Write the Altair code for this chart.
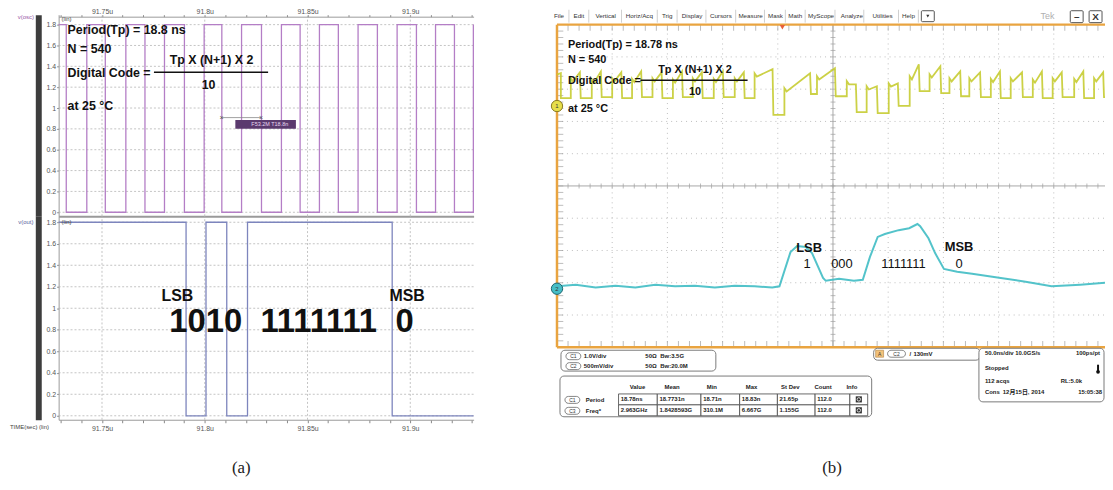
import altair as alt
import pandas as pd

# ============================ DATA ============================
# Panel (a): simulated waveforms (time in us, level in V).
# Each level is the value the trace switches to at the matching time.
OSC_T = [91.7289, 91.7326, 91.7426, 91.7516, 91.7616, 91.7709, 91.7804, 91.7901,
         91.7997, 91.8083, 91.8179, 91.8276, 91.8373, 91.8464, 91.8558, 91.8650,
         91.8746, 91.8840, 91.8936, 91.9030, 91.9123, 91.9215, 91.9307]
OSC_V = [1.8, 0, 1.8, 0, 1.8, 0, 1.8, 0, 1.8, 0, 1.8, 0,
         1.8, 0, 1.8, 0, 1.8, 0, 1.8, 0, 1.8, 0, 1.8]
OUT_T = [91.7289, 91.7909, 91.8006, 91.8107, 91.8208, 91.8912, 91.9308]
OUT_V = [1.8, 0, 1.8, 0, 1.8, 0, 0]
A_VTICKS = [0, 0.2, 0.4, 0.6, 0.8, 1, 1.2, 1.4, 1.6, 1.8]
A_TMAJOR = [91.75, 91.8, 91.85, 91.9]
A_TTICKS = [91.73, 91.74, 91.75, 91.76, 91.77, 91.78, 91.79, 91.8, 91.81, 91.82,
            91.83, 91.84, 91.85, 91.86, 91.87, 91.88, 91.89, 91.9, 91.91, 91.92, 91.93]
A_NOTES = ["Period(Tp) = 18.8 ns", "N = 540", "Digital Code =", "at 25 °C"]
FRACTION = ["Tp X (N+1) X 2", "10"]
A_BITS = ["1010", "1111111", "0"]
ENDS = ["LSB", "MSB"]
A_CURSOR = "F53.2M T18.8n"
A_CHANNELS = ["v(osc)", "v(out)"]

# Panel (b): oscilloscope capture, x and y in screen divisions.
Y_RISE = [0.25, 0.63, 1.00, 1.36, 1.73, 2.10, 2.46, 2.84, 3.22, 3.58, 4.12, 4.71, 5.25,
          5.61, 6.01, 6.39, 6.75, 7.11, 7.47, 7.86, 8.22, 8.62, 8.98, 9.37, 9.73]
Y_FALL = [0.43, 0.81, 1.18, 1.54, 1.91, 2.28, 2.64, 3.02, 3.40, 3.92, 4.60, 5.05, 5.43,
          5.81, 6.19, 6.57, 6.96, 7.32, 7.68, 8.04, 8.44, 8.80, 9.16, 9.55, 9.91]
Y_HIGH = [3.34, 3.30, 3.34, 3.32, 3.34, 3.30, 3.34, 3.32, 3.34, 3.49, 3.03, 3.40, 3.25,
          3.09, 3.18, 3.40, 3.46, 3.34, 3.34, 3.32, 3.34, 3.30, 3.34, 3.32, 3.34]
Y_PEAK = [3.52, 3.55, 3.52, 3.55, 3.52, 3.55, 3.52, 3.55, 3.52, 3.62, 3.49, 3.65, 3.15,
          3.09, 3.18, 3.77, 3.71, 3.55, 3.52, 3.55, 3.52, 3.55, 3.52, 3.55, 3.52]
Y_LOW = [2.72, 2.75, 2.72, 2.75, 2.72, 2.75, 2.72, 2.75, 2.72, 2.20, 2.85, 2.78, 2.29,
         2.26, 2.48, 2.94, 2.88, 2.78, 2.75, 2.72, 2.75, 2.72, 2.75, 2.72, 2.75]
Y_START = [3.45, 3.50, 2.72]
C2_X = [0, 0.34, 0.70, 1.06, 1.42, 1.78, 2.14, 2.50, 2.86, 3.22, 3.58, 3.90, 4.03,
        4.23, 4.35, 4.51, 4.62, 4.82, 4.87, 5.11, 5.38, 5.54, 5.67, 5.81, 5.94, 6.19,
        6.38, 6.53, 6.58, 6.73, 6.85, 7.01, 7.25, 7.52, 8.04, 8.49, 8.96, 9.48, 9.93]
C2_Y = [-3.11, -3.06, -3.15, -3.09, -3.15, -3.06, -3.11, -3.09, -3.15, -3.09, -3.11,
        -3.15, -3.11, -2.05, -1.86, -1.89, -2.08, -2.85, -2.94, -2.88, -2.94, -2.91,
        -2.20, -1.58, -1.49, -1.37, -1.31, -1.18, -1.25, -1.62, -2.08, -2.57, -2.66,
        -2.72, -2.85, -2.97, -3.11, -3.06, -3.00]
B_NOTES = ["Period(Tp) = 18.78 ns", "N = 540", "Digital Code =", "at 25 °C"]
B_BITS = ["1", "000", "1111111", "0"]
MENU = ["File", "Edit", "Vertical", "Horiz/Acq", "Trig", "Display", "Cursors", "Measure",
        "Mask", "Math", "MyScope", "Analyze", "Utilities", "Help"]
CH_NAMES = ["C1", "C2"]
CH_SCALE = ["1.0V/div", "500mV/div"]
CH_TERM = ["50Ω", "50Ω"]
CH_BW = ["Bw:3.5G", "Bw:20.0M"]
MEAS_HEAD = ["Value", "Mean", "Min", "Max", "St Dev", "Count", "Info"]
MEAS_SRC = ["C1", "C3"]
MEAS_NAME = ["Period", "Freq*"]
MEAS_ROWS = [["18.78ns", "18.7731n", "18.71n", "18.83n", "21.65p", "112.0"],
             ["2.963GHz", "1.8428593G", "310.1M", "6.667G", "1.155G", "112.0"]]
TRIG = ["A", "C2", "/", "130mV"]
HORIZ_L = ["50.0ns/div  10.0GS/s", "Stopped", "112 acqs", "Cons"]
HORIZ_DATE = "12月15日, 2014"
HORIZ_R = ["100ps/pt", "RL:5.0k", "15:05:38"]
CAPTIONS = ["(a)", "(b)"]

# ============================ LAYOUT ============================
W, H = 1105, 472
PX0, PY0 = 8, 16


def rx(px):
    return px - PX0


def ry(py):
    return py - PY0


def sc(domain, rng):
    return alt.Scale(domain=domain, range=rng, nice=False, zero=False)


TA_DOM = [91.72889, 91.93082]
VT_DOM = [-0.0381, 1.8952]
VB_DOM = [-0.0369, 1.8560]
S_TA = sc(TA_DOM, [rx(59), rx(477)])
S_VT = sc(VT_DOM, [ry(216), ry(13)])
S_VB = sc(VB_DOM, [ry(421), ry(216)])
S_DX = sc([0, 10], [rx(561), rx(1117)])
S_DY = sc([-5, 5], [ry(348), ry(23)])

SANS = "Liberation Sans, Arial, Noto Sans CJK SC"
SERIF = "Liberation Serif, Times New Roman"


def enc(xs, ys, xaxis=None, yaxis=None, two=False, **kw):
    e = dict(x=alt.X("x", type="quantitative", scale=xs, axis=xaxis),
             y=alt.Y("y", type="quantitative", scale=ys, axis=yaxis))
    if two:
        e["x2"] = alt.X2("x2")
        e["y2"] = alt.Y2("y2")
    e.update(kw)
    return e


def line_layer(df, xs, ys, xaxis=None, yaxis=None, **mk):
    return alt.Chart(df).mark_line(**mk).encode(
        **enc(xs, ys, xaxis, yaxis, order=alt.Order("o:Q")))


def text_layer(df, xs, ys, **mk):
    mk.setdefault("font", SANS)
    mk.setdefault("baseline", "middle")
    return alt.Chart(df).mark_text(**mk).encode(**enc(xs, ys, text=alt.Text("s:N")))


def rule_layer(df, xs, ys, xaxis=None, yaxis=None, **mk):
    return alt.Chart(df).mark_rule(**mk).encode(**enc(xs, ys, xaxis, yaxis, two=True))


def rect_layer(df, xs, ys, **mk):
    return alt.Chart(df).mark_rect(**mk).encode(**enc(xs, ys, two=True))


def tick_layer(df, xs, ys, **mk):
    return alt.Chart(df).mark_tick(**mk).encode(**enc(xs, ys))


def pts(xs_, ys_, labels):
    return pd.DataFrame({"x": xs_, "y": ys_, "s": labels})


def segs(x, x2, y, y2):
    return pd.DataFrame({"x": x, "x2": x2, "y": y, "y2": y2})


def step_df(ts, vs):
    rows, prev = [], vs[0]
    for t, v in zip(ts, vs):
        rows += [(t, prev), (t, v)]
        prev = v
    df = pd.DataFrame(rows, columns=["x", "y"])
    df["o"] = range(len(df))
    return df


layers = []

# ---------------- panel (a) ----------------
AXL = dict(labelFont=SANS, labelFontSize=7, labelColor="#555555", tickColor="#888888",
           domainColor="#9a9a9a", grid=False, title=None)
LBL_X = "round(datum.value*100) % 5 == 0 ? format(datum.value, '.2~f') + 'u' : ''"
ax_ytop = alt.Axis(orient="left", offset=-rx(59), values=A_VTICKS, format=".1~f",
                   tickSize=2, labelPadding=1, **AXL)
ax_ybot = alt.Axis(orient="left", offset=-rx(59), values=A_VTICKS, format=".1~f",
                   tickSize=2, labelPadding=1, **AXL)
ax_xtop = alt.Axis(orient="top", offset=-ry(15), values=A_TTICKS, labelExpr=LBL_X,
                   tickSize=2, labelPadding=0, labelOverlap=False, **AXL)
ax_xbot = alt.Axis(orient="bottom", offset=-(H - ry(421)), values=A_TTICKS, labelExpr=LBL_X,
                   tickSize=3, labelPadding=2, labelOverlap=False, **AXL)
BAR = dict(domainWidth=6, domainColor="#3d3d3d", labels=False, ticks=False, grid=False,
           title=None)
ax_bar1 = alt.Axis(orient="left", offset=-(rx(38.5)), **BAR)
ax_bar2 = alt.Axis(orient="left", offset=-(rx(38.5)), **BAR)
ax_sep = alt.Axis(orient="top", offset=-ry(216), domainWidth=2, domainColor="#9a9a9a",
                  labels=False, ticks=False, grid=False, title=None)

GRID_A = dict(color="#b4b4b4", strokeDash=[2, 2], strokeWidth=0.8)
for vs_dom, s_v, ybar in ((VT_DOM, S_VT, ax_bar1), (VB_DOM, S_VB, ax_bar2)):
    layers.append(rule_layer(segs([TA_DOM[0]] * len(A_VTICKS), [TA_DOM[1]] * len(A_VTICKS),
                                  A_VTICKS, A_VTICKS), S_TA, s_v, **GRID_A))
    layers.append(rule_layer(segs(A_TMAJOR, A_TMAJOR, [vs_dom[0]] * 4, [vs_dom[1]] * 4),
                             S_TA, s_v, yaxis=ybar,
                             xaxis=(ax_sep if s_v is S_VB else None), **GRID_A))

layers.append(line_layer(step_df(OSC_T, OSC_V), S_TA, S_VT, xaxis=ax_xtop, yaxis=ax_ytop,
                         color="#b47ec6", strokeWidth=1.3))
layers.append(line_layer(step_df(OUT_T, OUT_V), S_TA, S_VB, xaxis=ax_xbot, yaxis=ax_ybot,
                         color="#7d85bd", strokeWidth=1.3))

# annotations of panel (a)
layers.append(text_layer(pts([91.73324] * 4, [1.752, 1.562, 1.333, 1.019], A_NOTES),
                         S_TA, S_VT, align="left", fontSize=12.5, fontWeight="bold",
                         color="#111111"))
layers.append(text_layer(pts([91.80329, 91.80184], [1.457, 1.219], FRACTION), S_TA, S_VT,
                         align="center", fontSize=12.5, fontWeight="bold", color="#111111"))
layers.append(rule_layer(segs([91.77527], [91.83082], [1.343], [1.343]), S_TA, S_VT,
                         color="#111111", strokeWidth=1.6))
# cursor read-out
layers.append(rule_layer(segs([91.80812], [91.82744], [0.908], [0.908]), S_TA, S_VT,
                         color="#8a8a8a", strokeWidth=0.8))
layers.append(text_layer(pts([91.80812, 91.82744], [0.908, 0.908], ["×", "×"]), S_TA, S_VT,
                         align="center", fontSize=7, color="#555555"))
layers.append(rect_layer(segs([91.81488], [91.84435], [0.800], [0.886]), S_TA, S_VT,
                         color="#5b3a6e"))
layers.append(text_layer(pts([91.83164], [0.843], [A_CURSOR]), S_TA, S_VT, align="center",
                         fontSize=5.5, color="#e8d8f0"))
layers.append(text_layer(pts([91.78671, 91.89845], [1.117, 1.117], ENDS), S_TA, S_VB,
                         align="center", fontSize=16, fontWeight="bold", color="#111111"))
layers.append(text_layer(pts([91.80048, 91.85546, 91.89725], [0.868] * 3, A_BITS), S_TA,
                         S_VB, align="center", fontSize=33, fontWeight="bold",
                         color="#111111"))
layers.append(text_layer(pts([91.71295], [1.876], [A_CHANNELS[0]]), S_TA, S_VT,
                         align="center", fontSize=6, color="#9a5aa8"))
layers.append(text_layer(pts([91.71295], [1.80], [A_CHANNELS[1]]), S_TA, S_VB,
                         align="center", fontSize=6, color="#5a62a0"))
layers.append(text_layer(pts([91.73034], [1.857], ["(lin)"]), S_TA, S_VT, align="left",
                         fontSize=6, color="#444444"))
layers.append(text_layer(pts([91.73034], [1.80], ["(lin)"]), S_TA, S_VB, align="left",
                         fontSize=6, color="#444444"))
layers.append(text_layer(pts([91.70522], [-0.1016], ["TIME(sec) (lin)"]), S_TA, S_VB,
                         align="left", fontSize=6, color="#444444"))
layers.append(text_layer(pts([91.81778], [-0.4894], [CAPTIONS[0]]), S_TA, S_VB,
                         align="center", fontSize=17, font=SERIF, color="#222222"))

# ---------------- panel (b) ----------------
GRID_B = dict(color="#bdbdbd", strokeDash=[1, 4], strokeWidth=1)
vd = [1, 2, 3, 4, 6, 7, 8, 9]
layers.append(rule_layer(segs(vd, vd, [-5] * 8, [5] * 8), S_DX, S_DY, **GRID_B))
hd = [-4, -3, -2, -1, 1, 2, 3, 4]
layers.append(rule_layer(segs([0] * 8, [10] * 8, hd, hd), S_DX, S_DY, **GRID_B))
layers.append(rule_layer(segs([0, 5], [10, 5], [0, -5], [0, 5]), S_DX, S_DY,
                         color="#a8a8a8", strokeWidth=1))
TX = [round(0.2 * k, 1) for k in range(1, 50)]
TY = [round(0.2 * k, 1) for k in range(-24, 25)]
TCK = dict(color="#a0a0a0", thickness=1)
layers.append(tick_layer(pd.DataFrame({"x": TX, "y": 0}), S_DX, S_DY, orient="vertical",
                         size=5, **TCK))
layers.append(tick_layer(pd.DataFrame({"x": 5, "y": TY}), S_DX, S_DY, orient="horizontal",
                         size=5, **TCK))
layers.append(tick_layer(pd.DataFrame({"x": TX, "y": 4.9}), S_DX, S_DY, orient="vertical",
                         size=6, **TCK))
layers.append(tick_layer(pd.DataFrame({"x": TX, "y": -4.9}), S_DX, S_DY, orient="vertical",
                         size=6, **TCK))
layers.append(tick_layer(pd.DataFrame({"x": 0.06, "y": TY}), S_DX, S_DY,
                         orient="horizontal", size=6, **TCK))
# orange frame
layers.append(rule_layer(segs([0, 0, 0], [0, 10, 10], [-5, 5, -5], [5, 5, -5]), S_DX, S_DY,
                         color="#e9a440", strokeWidth=2.5))

# traces
yrows = [(0.0, Y_START[0]), (0.07, Y_START[1]), (0.07, Y_START[2])]
prev = Y_START[2]
for r, f, hi, pk, lo in zip(Y_RISE, Y_FALL, Y_HIGH, Y_PEAK, Y_LOW):
    yrows += [(r, prev), (r, hi), (r + 0.04, hi - 0.1), (f - 0.015, pk), (f, lo)]
    prev = lo
yrows.append((9.95, prev))
ydf = pd.DataFrame(yrows, columns=["x", "y"])
ydf["o"] = range(len(ydf))
layers.append(line_layer(ydf, S_DX, S_DY, color="#c6cc32", strokeWidth=1.8, opacity=0.9))
cdf = pd.DataFrame({"x": C2_X, "y": C2_Y})
cdf["o"] = range(len(cdf))
layers.append(line_layer(cdf, S_DX, S_DY, color="#40bcc4", strokeWidth=2, opacity=0.9))

# channel markers and trigger marker
layers.append(alt.Chart(pts([0], [2.477], ["1"])).mark_point(
    shape="circle", filled=True, size=130, color="#e6de4a", stroke="#8a7a20",
    strokeWidth=1, opacity=1).encode(**enc(S_DX, S_DY)))
layers.append(alt.Chart(pts([0], [-3.185], ["2"])).mark_point(
    shape="circle", filled=True, size=130, color="#46bec6", stroke="#1f6670",
    strokeWidth=1, opacity=1).encode(**enc(S_DX, S_DY)))
layers.append(text_layer(pts([0, 0], [2.477, -3.185], ["1", "2"]), S_DX, S_DY,
                         align="center", fontSize=6, color="#333333"))
layers.append(alt.Chart(pts([4.083], [4.92], [""])).mark_point(
    shape="triangle-down", filled=True, size=28, color="#e8603a", opacity=1).encode(
    **enc(S_DX, S_DY)))

# annotations of panel (b)
layers.append(text_layer(pts([0.198] * 4, [4.354, 3.892, 3.246, 2.385], B_NOTES), S_DX, S_DY,
                         align="left", fontSize=11, fontWeight="bold", color="#111111"))
layers.append(text_layer(pts([2.5, 2.5], [3.585, 2.908], FRACTION), S_DX, S_DY,
                         align="center", fontSize=11, fontWeight="bold", color="#111111"))
layers.append(rule_layer(segs([1.511], [3.453], [3.277], [3.277]), S_DX, S_DY,
                         color="#111111", strokeWidth=1.5))
layers.append(text_layer(pts([4.568, 7.284], [-1.923, -1.892], ENDS), S_DX, S_DY,
                         align="center", fontSize=13, fontWeight="bold", color="#111111"))
layers.append(text_layer(pts([4.532, 5.162, 6.277, 7.284], [-2.415] * 4, B_BITS), S_DX, S_DY,
                         align="center", fontSize=13, color="#111111"))

# menu bar
MENU_X = [0.036, 0.396, 0.881, 1.493, 1.996, 2.446, 2.968, 3.507, 3.957, 4.317, 4.784,
          5.342, 5.899, 6.367]
SEP_X = [0.216, 0.576, 1.169, 1.817, 2.176, 2.698, 3.237, 3.759, 4.137, 4.496, 5.036,
         5.558, 6.187, 6.547]
layers.append(text_layer(pts(MENU_X, [5.277] * len(MENU), MENU), S_DX, S_DY,
                         align="center", fontSize=6.3, color="#333333"))
layers.append(rule_layer(segs(SEP_X, SEP_X, [5.062] * len(SEP_X), [5.462] * len(SEP_X)),
                         S_DX, S_DY, color="#c4c4c4", strokeWidth=0.8))
layers.append(rect_layer(segs([6.601, 9.299, 9.640], [6.835, 9.532, 9.874],
                              [5.092, 5.062, 5.062], [5.431, 5.431, 5.431]), S_DX, S_DY,
                         fill="#ffffff", stroke="#555555", strokeWidth=1, cornerRadius=1))
layers.append(alt.Chart(pts([6.718], [5.262], [""])).mark_point(
    shape="triangle-down", filled=True, size=10, color="#333333", opacity=1).encode(
    **enc(S_DX, S_DY)))
layers.append(text_layer(pts([9.415, 9.757], [5.25, 5.25], ["–", "X"]), S_DX, S_DY,
                         align="center", fontSize=10, fontWeight="bold", color="#333333"))
layers.append(text_layer(pts([8.885], [5.277], ["Tek"]), S_DX, S_DY, align="center",
                         fontSize=9, color="#b0b0b0"))

# info boxes
layers.append(rect_layer(segs([0.072, 0.054, 5.737, 7.644], [2.878, 5.701, 7.662, 9.910],
                              [-5.738, -7.154, -5.400, -6.692],
                              [-5.092, -5.892, -5.031, -5.031]), S_DX, S_DY,
                         fill="#ffffff", stroke="#7a7a7a", strokeWidth=1, cornerRadius=4))
PILL = dict(fill="#ffffff", stroke="#666666", strokeWidth=0.8, cornerRadius=4)
layers.append(rect_layer(segs([0.162, 0.162, 0.144, 0.144, 5.989],
                              [0.432, 0.432, 0.414, 0.414, 6.313],
                              [-5.385, -5.692, -6.738, -7.077, -5.308],
                              [-5.169, -5.477, -6.523, -6.862, -5.092]), S_DX, S_DY, **PILL))
layers.append(rect_layer(segs([5.773], [5.917], [-5.308], [-5.092]), S_DX, S_DY,
                         fill="#f2c27a", stroke="#b08040", strokeWidth=0.6))
INFO = dict(fontSize=6, color="#222222")
layers.append(text_layer(pts([0.297, 0.297, 0.279, 0.279, 6.151, 5.845],
                             [-5.277, -5.585, -6.631, -6.969, -5.2, -5.2],
                             CH_NAMES + MEAS_SRC + [TRIG[1], TRIG[0]]), S_DX, S_DY,
                         align="center", fontSize=5, color="#333333"))
layers.append(text_layer(pts([0.486, 0.486, 1.601, 1.601, 1.871, 1.871],
                             [-5.277, -5.585, -5.277, -5.585, -5.277, -5.585],
                             CH_SCALE + CH_TERM + CH_BW), S_DX, S_DY, align="left",
                         fontWeight="bold", **INFO))
layers.append(text_layer(pts([1.457, 2.086, 2.806, 3.525, 4.227, 4.820, 5.342],
                             [-6.231] * 7, MEAS_HEAD), S_DX, S_DY, align="center",
                         fontWeight="bold", **INFO))
layers.append(text_layer(pts([0.522, 0.522], [-6.631, -6.969], MEAS_NAME), S_DX, S_DY,
                         align="left", fontWeight="bold", **INFO))
CB_X = [1.115, 1.817, 2.608, 3.309, 3.993, 4.676, 5.306, 5.629]
CB_Y = [-6.446, -6.785, -7.123]
cells = segs([CB_X[i] for r in range(2) for i in range(7)],
             [CB_X[i + 1] for r in range(2) for i in range(7)],
             [CB_Y[r + 1] for r in range(2) for i in range(7)],
             [CB_Y[r] for r in range(2) for i in range(7)])
layers.append(rect_layer(cells, S_DX, S_DY, fill="#ffffff", stroke="#444444", strokeWidth=0.8))
vals_x = [CB_X[i] + 0.04 for r in range(2) for i in range(6)]
vals_y = [-6.615 if r == 0 else -6.954 for r in range(2) for i in range(6)]
layers.append(text_layer(pts(vals_x, vals_y, MEAS_ROWS[0] + MEAS_ROWS[1]), S_DX, S_DY,
                         align="left", fontWeight="bold", **INFO))
layers.append(alt.Chart(pts([5.468, 5.468], [-6.615, -6.954], ["", ""])).mark_square(
    size=38, color="#333333", opacity=1).encode(**enc(S_DX, S_DY)))
layers.append(alt.Chart(pts([5.468, 5.468], [-6.615, -6.954], ["", ""])).mark_point(
    shape="circle", size=12, color="#dddddd", strokeWidth=1, opacity=1).encode(
    **enc(S_DX, S_DY)))
layers.append(text_layer(pts([6.385, 6.457], [-5.2, -5.2], TRIG[2:]), S_DX, S_DY,
                         align="left", fontWeight="bold", **INFO))
layers.append(text_layer(pts([7.752] * 4 + [8.076], [-5.185, -5.646, -6.046, -6.385, -6.385],
                             HORIZ_L + [HORIZ_DATE]), S_DX, S_DY, align="left",
                         fontWeight="bold", **INFO))
layers.append(text_layer(pts([9.838, 9.514, 9.874], [-5.185, -6.046, -6.385], HORIZ_R),
                         S_DX, S_DY, align="right", fontWeight="bold", **INFO))
layers.append(rule_layer(segs([9.802], [9.802], [-5.75], [-5.54]), S_DX, S_DY,
                         color="#111111", strokeWidth=2))
layers.append(alt.Chart(pts([9.802], [-5.76], [""])).mark_point(
    shape="circle", filled=True, size=14, color="#111111", opacity=1).encode(
    **enc(S_DX, S_DY)))
layers.append(text_layer(pts([4.982], [-8.754], [CAPTIONS[1]]), S_DX, S_DY,
                         align="center", fontSize=17, font=SERIF, color="#222222"))

chart = alt.layer(*layers).resolve_scale(x="independent", y="independent").properties(
    width=W, height=H,
    padding={"left": 0, "top": PY0 - 8, "right": 0, "bottom": 0},
    autosize=alt.AutoSizeParams(type="none"),
    background="#ffffff",
).configure_view(stroke=None)

chart.save("out.html", embed_options={"renderer": "svg", "actions": False})
